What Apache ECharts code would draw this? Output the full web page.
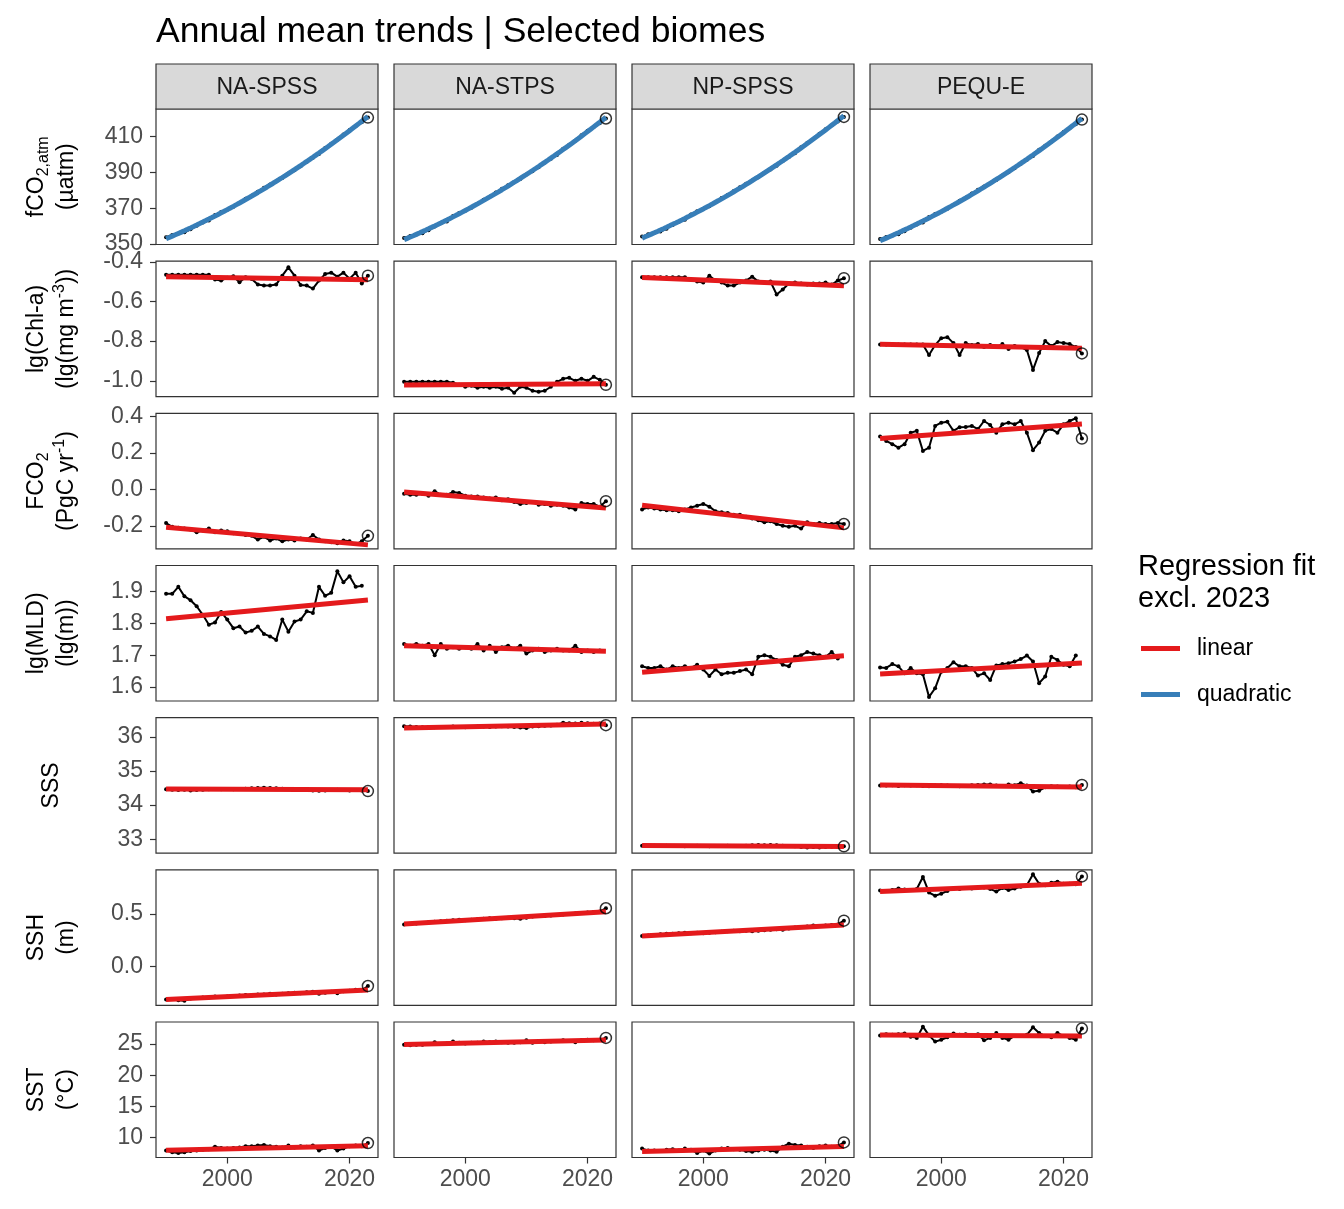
<!DOCTYPE html>
<html>
<head>
<meta charset="utf-8">
<script src="https://cdn.jsdelivr.net/npm/echarts@6/dist/echarts.min.js"></script>
<style>
  html, body { margin: 0; padding: 0; background: #fff; }
  #chart { width: 1344px; height: 1209px; }
</style>
</head>
<body>
<div id="chart"></div>
<script>
// facets
var biomes = ['NA-SPSS', 'NA-STPS', 'NP-SPSS', 'PEQU-E'];
var years = [1990, 1991, 1992, 1993, 1994, 1995, 1996, 1997, 1998, 1999,
             2000, 2001, 2002, 2003, 2004, 2005, 2006, 2007, 2008, 2009,
             2010, 2011, 2012, 2013, 2014, 2015, 2016, 2017, 2018, 2019,
             2020, 2021, 2022, 2023];
var xTicks = [2000, 2020];

// fCO2,atm (uatm), one list per biome
var fco2atm = [
  [353.9, 355.1, 355.9, 356.6, 358.3, 360.3, 362.1, 363.2, 366.2, 367.9, 369.2, 370.8, 373.0, 375.3, 377.0, 379.3, 381.4,
   383.3, 385.1, 386.9, 389.4, 391.2, 393.4, 396.0, 398.2, 400.3, 403.7, 406.0, 408.2, 411.2, 413.7, 415.9, 418.0, 420.6],
  [353.4, 354.6, 355.4, 356.1, 357.8, 359.8, 361.6, 362.7, 365.7, 367.4, 368.7, 370.3, 372.5, 374.8, 376.5, 378.8, 380.9,
   382.8, 384.6, 386.4, 388.9, 390.7, 392.9, 395.5, 397.7, 399.8, 403.2, 405.5, 407.7, 410.7, 413.2, 415.4, 417.5, 420.1],
  [354.2, 355.5, 356.3, 357.0, 358.6, 360.7, 362.5, 363.6, 366.5, 368.3, 369.6, 371.2, 373.4, 375.7, 377.4, 379.7, 381.8,
   383.7, 385.5, 387.3, 389.8, 391.6, 393.8, 396.4, 398.6, 400.7, 404.1, 406.4, 408.6, 411.6, 414.1, 416.3, 418.4, 421.0],
  [352.8, 354.0, 354.8, 355.5, 357.2, 359.2, 361.0, 362.1, 365.1, 366.8, 368.1, 369.7, 371.9, 374.2, 375.9, 378.2, 380.3,
   382.2, 384.0, 385.8, 388.3, 390.1, 392.3, 394.9, 397.1, 399.2, 402.6, 404.9, 407.1, 410.1, 412.6, 414.8, 416.9, 419.5]
];

// lg(Chl-a)
var chla = [
  [-0.465, -0.465, -0.465, -0.465, -0.465, -0.465, -0.465, -0.465, -0.49, -0.495, -0.48, -0.473, -0.503, -0.478, -0.487, -0.515, -0.52,
   -0.52, -0.515, -0.47, -0.428, -0.47, -0.517, -0.52, -0.535, -0.495, -0.462, -0.455, -0.475, -0.455, -0.485, -0.455, -0.51, -0.47],
  [-1.005, -1.005, -1.005, -1.005, -1.005, -1.005, -1.005, -1.005, -1.01, -1.02, -1.03, -1.025, -1.035, -1.03, -1.035, -1.03, -1.04,
   -1.035, -1.06, -1.03, -1.035, -1.05, -1.055, -1.05, -1.03, -1.005, -0.99, -0.985, -1.0, -0.99, -1.0, -0.98, -0.995, -1.02],
  [-0.478, -0.478, -0.478, -0.478, -0.478, -0.478, -0.478, -0.478, -0.49, -0.5, -0.505, -0.47, -0.495, -0.505, -0.52, -0.52, -0.505,
   -0.495, -0.475, -0.5, -0.505, -0.5, -0.565, -0.54, -0.51, -0.505, -0.51, -0.515, -0.51, -0.51, -0.505, -0.515, -0.495, -0.483],
  [-0.817, -0.817, -0.817, -0.817, -0.817, -0.817, -0.817, -0.817, -0.87, -0.82, -0.785, -0.78, -0.81, -0.87, -0.81, -0.82, -0.815,
   -0.83, -0.82, -0.83, -0.815, -0.84, -0.825, -0.83, -0.845, -0.945, -0.86, -0.8, -0.825, -0.805, -0.81, -0.815, -0.83, -0.862]
];

// FCO2 (PgC/yr)
var fco2 = [
  [-0.185, -0.205, -0.21, -0.215, -0.22, -0.235, -0.225, -0.215, -0.235, -0.225, -0.23, -0.24, -0.245, -0.25, -0.255, -0.275, -0.26,
   -0.28, -0.27, -0.285, -0.275, -0.28, -0.27, -0.275, -0.25, -0.275, -0.285, -0.29, -0.295, -0.28, -0.285, -0.3, -0.285, -0.255],
  [-0.025, -0.03, -0.03, -0.025, -0.035, -0.01, -0.03, -0.03, -0.015, -0.02, -0.035, -0.04, -0.04, -0.045, -0.05, -0.045, -0.06,
   -0.055, -0.07, -0.08, -0.075, -0.07, -0.085, -0.08, -0.09, -0.085, -0.09, -0.1, -0.11, -0.075, -0.08, -0.08, -0.095, -0.065],
  [-0.11, -0.1, -0.105, -0.11, -0.115, -0.115, -0.12, -0.11, -0.1, -0.09, -0.08, -0.095, -0.12, -0.125, -0.13, -0.14, -0.14,
   -0.15, -0.16, -0.17, -0.18, -0.175, -0.19, -0.2, -0.205, -0.2, -0.215, -0.18, -0.19, -0.185, -0.19, -0.19, -0.185, -0.19],
  [0.289, 0.265, 0.247, 0.228, 0.247, 0.31, 0.32, 0.21, 0.228, 0.347, 0.365, 0.37, 0.32, 0.34, 0.341, 0.347, 0.33,
   0.374, 0.352, 0.31, 0.356, 0.365, 0.356, 0.374, 0.31, 0.214, 0.256, 0.32, 0.33, 0.31, 0.356, 0.374, 0.389, 0.278]
];

// lg(MLD), no 2023 value
var mld = [
  [1.893, 1.893, 1.915, 1.885, 1.873, 1.854, 1.827, 1.796, 1.803, 1.836, 1.812, 1.785, 1.79, 1.771, 1.777, 1.79, 1.767,
   1.759, 1.748, 1.812, 1.774, 1.806, 1.812, 1.838, 1.833, 1.915, 1.887, 1.896, 1.964, 1.929, 1.948, 1.915, 1.918],
  [1.735, 1.73, 1.735, 1.73, 1.735, 1.70, 1.735, 1.72, 1.725, 1.72, 1.725, 1.72, 1.735, 1.715, 1.73, 1.71, 1.725,
   1.73, 1.72, 1.73, 1.705, 1.715, 1.72, 1.71, 1.715, 1.72, 1.715, 1.715, 1.73, 1.71, 1.715, 1.71, 1.715],
  [1.665, 1.66, 1.66, 1.665, 1.655, 1.665, 1.66, 1.665, 1.66, 1.67, 1.655, 1.635, 1.655, 1.64, 1.645, 1.645, 1.65,
   1.655, 1.64, 1.695, 1.70, 1.695, 1.685, 1.67, 1.665, 1.695, 1.70, 1.71, 1.705, 1.70, 1.695, 1.71, 1.69],
  [1.661, 1.66, 1.672, 1.665, 1.643, 1.66, 1.643, 1.64, 1.569, 1.596, 1.648, 1.66, 1.678, 1.665, 1.665, 1.66, 1.636,
   1.643, 1.622, 1.668, 1.672, 1.675, 1.68, 1.688, 1.699, 1.68, 1.612, 1.633, 1.695, 1.685, 1.67, 1.665, 1.699]
];

// SSS
var sss = [
  [34.46, 34.45, 34.44, 34.45, 34.43, 34.44, 34.45, 34.46, 34.47, 34.46, 34.47, 34.46, 34.47, 34.48, 34.49, 34.5, 34.51,
   34.5, 34.49, 34.48, 34.47, 34.46, 34.45, 34.45, 34.43, 34.42, 34.43, 34.44, 34.45, 34.44, 34.43, 34.44, 34.43, 34.41],
  [36.31, 36.3, 36.29, 36.28, 36.27, 36.28, 36.29, 36.29, 36.3, 36.29, 36.28, 36.29, 36.3, 36.3, 36.29, 36.3, 36.31,
   36.3, 36.29, 36.27, 36.26, 36.3, 36.31, 36.32, 36.33, 36.35, 36.41, 36.4, 36.39, 36.41, 36.4, 36.38, 36.39, 36.34],
  [32.81, 32.8, 32.81, 32.8, 32.81, 32.8, 32.8, 32.79, 32.8, 32.81, 32.8, 32.79, 32.8, 32.8, 32.81, 32.8, 32.8,
   32.81, 32.82, 32.83, 32.82, 32.83, 32.82, 32.81, 32.8, 32.79, 32.77, 32.76, 32.77, 32.76, 32.77, 32.78, 32.77, 32.79],
  [34.57, 34.57, 34.58, 34.56, 34.58, 34.57, 34.58, 34.56, 34.55, 34.57, 34.58, 34.57, 34.56, 34.55, 34.56, 34.58, 34.59,
   34.6, 34.6, 34.57, 34.56, 34.6, 34.58, 34.64, 34.57, 34.4, 34.42, 34.52, 34.55, 34.54, 34.53, 34.54, 34.52, 34.59]
];

// SSH (m)
var ssh = [
  [-0.32, -0.315, -0.325, -0.33, -0.31, -0.305, -0.3, -0.3, -0.29, -0.295, -0.29, -0.285, -0.28, -0.275, -0.28, -0.27, -0.27,
   -0.265, -0.27, -0.265, -0.26, -0.255, -0.26, -0.25, -0.245, -0.265, -0.255, -0.245, -0.26, -0.24, -0.235, -0.225, -0.23, -0.19],
  [0.40, 0.405, 0.41, 0.415, 0.42, 0.425, 0.43, 0.435, 0.44, 0.445, 0.44, 0.445, 0.45, 0.455, 0.46, 0.455, 0.46,
   0.465, 0.46, 0.455, 0.465, 0.475, 0.48, 0.48, 0.485, 0.49, 0.495, 0.5, 0.505, 0.51, 0.515, 0.52, 0.525, 0.555],
  [0.29, 0.295, 0.3, 0.305, 0.31, 0.31, 0.315, 0.32, 0.315, 0.32, 0.315, 0.32, 0.325, 0.33, 0.335, 0.34, 0.335,
   0.34, 0.335, 0.34, 0.345, 0.35, 0.355, 0.35, 0.36, 0.37, 0.375, 0.38, 0.39, 0.385, 0.39, 0.395, 0.4, 0.436],
  [0.725, 0.72, 0.73, 0.745, 0.735, 0.73, 0.74, 0.855, 0.705, 0.675, 0.695, 0.72, 0.745, 0.74, 0.75, 0.745, 0.755,
   0.755, 0.74, 0.715, 0.75, 0.73, 0.745, 0.76, 0.775, 0.88, 0.79, 0.775, 0.8, 0.81, 0.79, 0.79, 0.785, 0.86]
];

// SST (degC)
var sst = [
  [7.9, 7.6, 7.5, 7.6, 7.8, 7.9, 8.0, 8.1, 8.5, 8.3, 8.2, 8.3, 8.4, 8.6, 8.6, 8.7, 8.8,
   8.6, 8.5, 8.4, 8.7, 8.4, 8.6, 8.5, 8.7, 7.9, 8.3, 8.5, 7.9, 8.2, 8.6, 8.7, 8.6, 9.1],
  [24.9, 24.8, 24.9, 24.9, 25.0, 25.3, 25.0, 25.1, 25.4, 25.2, 25.1, 25.2, 25.2, 25.4, 25.3, 25.4, 25.3,
   25.2, 25.2, 25.3, 25.6, 25.2, 25.5, 25.3, 25.4, 25.5, 25.6, 25.5, 25.3, 25.6, 25.7, 25.6, 25.7, 26.0],
  [8.2, 7.9, 7.9, 7.8, 8.0, 8.1, 7.9, 8.2, 8.0, 7.5, 7.9, 7.4, 7.9, 8.2, 8.3, 8.1, 8.0,
   7.8, 7.7, 7.9, 8.0, 7.9, 7.7, 8.5, 9.0, 8.8, 8.7, 8.5, 8.3, 8.6, 8.7, 8.5, 8.6, 9.2],
  [26.4, 26.6, 26.5, 26.6, 26.7, 26.2, 26.0, 27.8, 26.4, 25.4, 25.7, 26.1, 26.7, 26.5, 26.6, 26.4, 26.6,
   25.6, 26.0, 26.8, 26.0, 25.7, 26.3, 26.3, 26.5, 27.7, 26.8, 26.3, 26.1, 26.8, 26.3, 26.0, 25.7, 27.5]
];

var rowData = [fco2atm, chla, fco2, mld, sss, ssh, sst];
var rowFit = ['quadratic', 'linear', 'linear', 'linear', 'linear', 'linear', 'linear'];
var rowMin = [349.8, -1.08, -0.326, 1.556, 32.59, -0.375, 6.77];
var rowMax = [425.4, -0.397, 0.416, 1.982, 36.56, 0.923, 28.55];
var rowTicks = [[350, 370, 390, 410], [-1.0, -0.8, -0.6, -0.4], [-0.2, 0.0, 0.2, 0.4],
                [1.6, 1.7, 1.8, 1.9], [33, 34, 35, 36], [0.0, 0.5], [10, 15, 20, 25]];
var rowDigits = [0, 1, 1, 1, 0, 1, 0];
var rowTitles = [
  '{n|fCO}{sub|2,atm}\n{n|(µatm)}',
  '{n|lg(Chl-a)}\n{n|(lg(mg m}{sup|-3}{n|))}',
  '{n|FCO}{sub|2}\n{n|(PgC yr}{sup|-1}{n|)}',
  '{n|lg(MLD)}\n{n|(lg(m))}',
  '{n|SSS}',
  '{n|SSH}\n{n|(m)}',
  '{n|SST}\n{n|(°C)}'
];

var FONT = 'Liberation Sans, Arial, sans-serif';
var RED = '#e41a1c', BLUE = '#377eb8';
var panelLeft = 156, panelW = 222, colStep = 238;
var panelTop = 109, panelH = 135.5, rowStep = 152.17;

// least squares polynomial, x centred
function polyFit(xs, ys, deg) {
  var x0 = 2006, n = deg + 1, A = [], b = [], i, j, k;
  for (i = 0; i < n; i++) { A.push([]); b.push(0); for (j = 0; j < n; j++) A[i].push(0); }
  for (k = 0; k < xs.length; k++) {
    var t = xs[k] - x0;
    for (i = 0; i < n; i++) {
      b[i] += ys[k] * Math.pow(t, i);
      for (j = 0; j < n; j++) A[i][j] += Math.pow(t, i + j);
    }
  }
  for (i = 0; i < n; i++) {
    for (k = i + 1; k < n; k++) {
      var f = A[k][i] / A[i][i];
      for (j = i; j < n; j++) A[k][j] -= f * A[i][j];
      b[k] -= f * b[i];
    }
  }
  var c = new Array(n);
  for (i = n - 1; i >= 0; i--) {
    var s = b[i];
    for (j = i + 1; j < n; j++) s -= A[i][j] * c[j];
    c[i] = s / A[i][i];
  }
  return function (x) {
    var t = x - x0, v = 0;
    for (var m = 0; m < n; m++) v += c[m] * Math.pow(t, m);
    return v;
  };
}

var grids = [], xAxes = [], yAxes = [], series = [], graphics = [];

for (var r = 0; r < 7; r++) {
  for (var c = 0; c < 4; c++) {
    var gi = r * 4 + c;
    var vals = rowData[r][c];
    grids.push({
      left: panelLeft + c * colStep, top: panelTop + r * rowStep,
      width: panelW, height: panelH,
      show: true, backgroundColor: '#fff', borderColor: '#333', borderWidth: 1.2
    });
    var bottom = (r === 6);
    xAxes.push({
      type: 'value', gridIndex: gi, min: 1988.35, max: 2024.65,
      axisLine: { show: false }, splitLine: { show: false },
      axisTick: { show: bottom, length: 6, lineStyle: { color: '#333', width: 1.2 }, customValues: xTicks },
      axisLabel: {
        show: bottom, margin: 11, color: '#4d4d4d', fontSize: 23, fontFamily: FONT, customValues: xTicks,
        formatter: function (v) { return String(Math.round(v)); }
      }
    });
    var first = (c === 0);
    (function (d) {
      yAxes.push({
        type: 'value', gridIndex: gi, min: rowMin[r], max: rowMax[r],
        axisLine: { show: false }, splitLine: { show: false },
        axisTick: { show: first, length: 6, lineStyle: { color: '#333', width: 1.2 }, customValues: rowTicks[r] },
        axisLabel: {
          show: first, margin: 13, color: '#4d4d4d', fontSize: 23, fontFamily: FONT,
          customValues: rowTicks[r],
          formatter: function (v) { return Number(v).toFixed(d); }
        }
      });
    })(rowDigits[r]);

    var pts = [], fx = [], fy = [];
    for (var k = 0; k < vals.length; k++) {
      pts.push([years[k], vals[k]]);
      if (years[k] <= 2022) { fx.push(years[k]); fy.push(vals[k]); }
    }
    // observed annual means
    series.push({
      type: 'line', xAxisIndex: gi, yAxisIndex: gi, data: pts,
      symbol: 'circle', symbolSize: 4, showSymbol: true,
      lineStyle: { color: '#000', width: 2 }, itemStyle: { color: '#000' },
      silent: true, z: 2
    });
    // regression fit excl. 2023
    var fitType = rowFit[r];
    var fn = polyFit(fx, fy, fitType === 'quadratic' ? 2 : 1);
    var fitPts = [];
    if (fitType === 'quadratic') {
      for (var xq = 1990; xq <= 2023.001; xq += 0.5) fitPts.push([xq, fn(xq)]);
    } else {
      fitPts = [[1990, fn(1990)], [2023, fn(2023)]];
    }
    var col = fitType === 'quadratic' ? BLUE : RED;
    series.push({
      name: fitType, type: 'line', xAxisIndex: gi, yAxisIndex: gi, data: fitPts,
      showSymbol: false, symbol: 'none', smooth: false,
      lineStyle: { color: col, width: 5 }, itemStyle: { color: col },
      silent: true, z: 3
    });
    // 2023 value
    if (vals.length === years.length) {
      series.push({
        type: 'scatter', xAxisIndex: gi, yAxisIndex: gi,
        data: [[years[vals.length - 1], vals[vals.length - 1]]],
        symbol: 'circle', symbolSize: 11,
        itemStyle: { color: 'rgba(0,0,0,0)', borderColor: '#000', borderWidth: 1.5 },
        silent: true, z: 4
      });
    }
  }
  // row title
  graphics.push({
    type: 'text', x: 52, y: panelTop + r * rowStep + panelH / 2, rotation: Math.PI / 2,
    style: {
      text: rowTitles[r], align: 'center', verticalAlign: 'middle', fill: '#000',
      rich: {
        n: { fontSize: 23, fontFamily: FONT, lineHeight: 30, fill: '#000', color: '#000' },
        sub: { fontSize: 16, fontFamily: FONT, lineHeight: 17, verticalAlign: 'bottom', color: '#000' },
        sup: { fontSize: 16, fontFamily: FONT, lineHeight: 17, verticalAlign: 'top', color: '#000' }
      }
    }
  });
}

// strips
for (var s = 0; s < 4; s++) {
  graphics.push({
    type: 'rect', shape: { x: panelLeft + s * colStep, y: 64, width: panelW, height: 45 },
    style: { fill: '#d9d9d9', stroke: '#333', lineWidth: 1.2 }
  });
  graphics.push({
    type: 'text', x: panelLeft + s * colStep + panelW / 2, y: 88,
    style: { text: biomes[s], align: 'center', verticalAlign: 'middle', fill: '#1a1a1a', fontSize: 23, fontFamily: FONT }
  });
}

// legend title
graphics.push({
  type: 'text', x: 1138, y: 551,
  style: { text: 'Regression fit\nexcl. 2023', align: 'left', verticalAlign: 'top', fill: '#000',
           fontSize: 29, fontFamily: FONT, lineHeight: 32 }
});

var chart = echarts.init(document.getElementById('chart'), null, { renderer: 'canvas' });
chart.setOption({
  animation: false,
  backgroundColor: '#fff',
  title: {
    text: 'Annual mean trends | Selected biomes', left: 151, top: 9,
    textStyle: { fontSize: 35.5, fontWeight: 'normal', color: '#000', fontFamily: FONT }
  },
  legend: {
    data: ['linear', 'quadratic'], orient: 'vertical', left: 1141, top: 637, padding: 0,
    itemWidth: 39, itemHeight: 5, itemGap: 23, icon: 'rect', selectedMode: false,
    textStyle: { fontSize: 23, fontFamily: FONT, color: '#000', lineHeight: 23, padding: [0, 0, 0, 12] }
  },
  grid: grids,
  xAxis: xAxes,
  yAxis: yAxes,
  series: series,
  graphic: graphics
});
</script>
</body>
</html>
